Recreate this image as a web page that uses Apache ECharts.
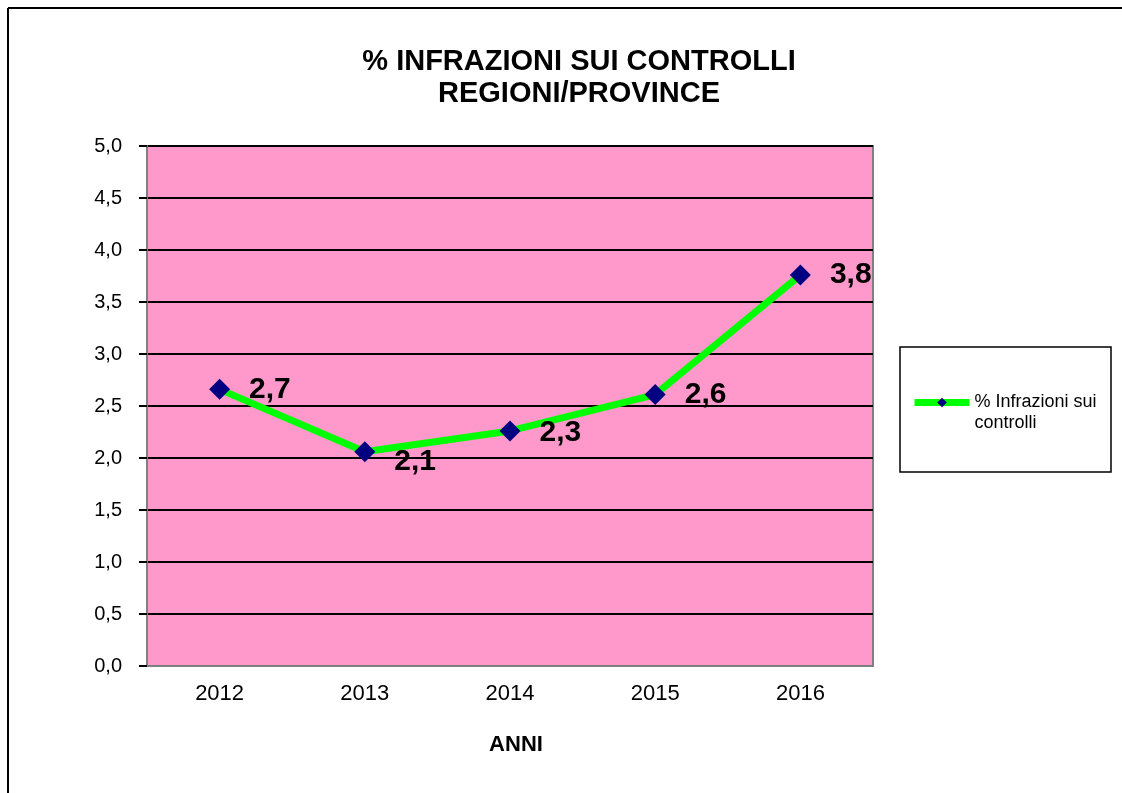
<!DOCTYPE html>
<html>
<head>
<meta charset="utf-8">
<script src="https://cdn.jsdelivr.net/npm/echarts@6/dist/echarts.min.js"></script>
<style>
  html, body { margin: 0; padding: 0; background: #fff; }
  #chart { width: 1122px; height: 793px; }
</style>
</head>
<body>
<div id="chart"></div>
<script>
// values
var anni = ["2012", "2013", "2014", "2015", "2016"];
var infrazioni = [2.66, 2.06, 2.26, 2.61, 3.76];
var labelOffsets = [[0, 0], [0, 10], [0, 2], [0, 0], [0, 0]];
var serieName = "% Infrazioni sui controlli";

function virgola(v) {
    return v.toFixed(1).replace(".", ",");
}

var punti = [];
for (var i = 0; i < infrazioni.length; i++) {
    punti.push({ value: infrazioni[i], label: { offset: labelOffsets[i] } });
}

var myChart = echarts.init(document.getElementById("chart"));
var font = "'Liberation Sans', Arial, sans-serif";

var option = {
    animation: false,
    backgroundColor: "#ffffff",
    textStyle: { fontFamily: font },
    title: {
        text: "% INFRAZIONI SUI CONTROLLI\nREGIONI/PROVINCE",
        left: 574,
        top: 41,
        textAlign: "center",
        textStyle: { fontFamily: font, fontSize: 29, fontWeight: "bold", color: "#000", lineHeight: 32 }
    },
    grid: {
        left: 147, top: 146, right: 249, bottom: 127,
        show: true,
        backgroundColor: "#ff99cc",
        borderColor: "#808080",
        borderWidth: 2
    },
    legend: {
        left: 906,
        top: 366,
        itemWidth: 55,
        itemHeight: 12,
        itemGap: 0,
        data: [serieName],
        lineStyle: { width: 7 },
        formatter: function () { return " \n% Infrazioni sui\ncontrolli"; },
        textStyle: { fontFamily: font, fontSize: 18, color: "#000", lineHeight: 21 }
    },
    xAxis: {
        type: "category",
        data: anni,
        name: "ANNI",
        nameLocation: "middle",
        nameGap: 68,
        nameTextStyle: { fontFamily: font, fontSize: 22, fontWeight: "bold", color: "#000", padding: [0, 0, 0, 12] },
        axisLine: { lineStyle: { color: "#808080", width: 2 } },
        axisTick: { length: 10, lineStyle: { color: "#000", width: 1 } },
        axisLabel: { fontFamily: font, fontSize: 22, color: "#000", margin: 17 },
        splitLine: { show: false }
    },
    yAxis: {
        type: "value",
        min: 0,
        max: 5,
        interval: 0.5,
        axisLine: { show: true, lineStyle: { color: "#808080", width: 2 } },
        axisTick: { show: true, length: 8, lineStyle: { color: "#000", width: 2 } },
        axisLabel: { fontFamily: font, fontSize: 20, color: "#000", margin: 25, formatter: virgola },
        splitLine: { show: true, lineStyle: { color: "#000", width: 2 } }
    },
    series: [{
        name: serieName,
        type: "line",
        data: punti,
        symbol: "diamond",
        symbolSize: 21,
        itemStyle: { color: "#000080" },
        lineStyle: { color: "#00ff00", width: 7 },
        label: {
            show: true,
            position: "right",
            distance: 19,
            fontFamily: font,
            fontSize: 30,
            fontWeight: "bold",
            color: "#000",
            formatter: function (p) { return virgola(p.value); }
        },
        z: 3
    }],
    graphic: [
        { type: "line", shape: { x1: 8, y1: 8, x2: 1122, y2: 8 }, style: { stroke: "#000", lineWidth: 2 } },
        { type: "line", shape: { x1: 8, y1: 8, x2: 8, y2: 793 }, style: { stroke: "#000", lineWidth: 2 } },
        { type: "rect", shape: { x: 900, y: 347, width: 211, height: 125 }, style: { fill: "#fff", stroke: "#000", lineWidth: 1.5 }, z: -1 }
    ]
};

myChart.setOption(option);
</script>
</body>
</html>
